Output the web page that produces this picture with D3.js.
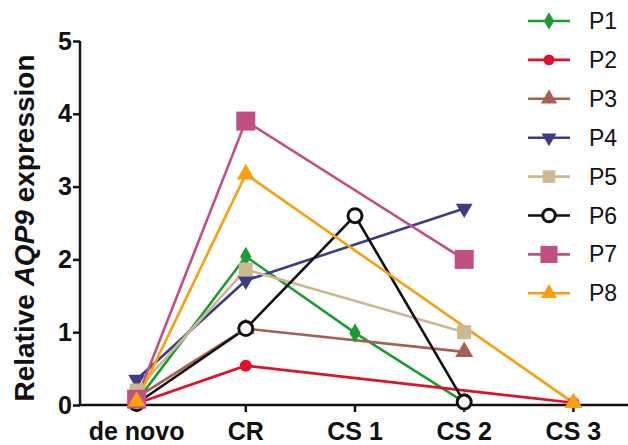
<!DOCTYPE html>
<html><head><meta charset="utf-8">
<script src="https://cdn.jsdelivr.net/npm/d3@7/dist/d3.min.js"></script>
<style>body{margin:0;background:#fff}svg{display:block}</style>
</head><body>
<svg id="c" width="628" height="445"></svg>
<script>
const categories = ["de novo", "CR", "CS 1", "CS 2", "CS 3"];
const yTicks = [0, 1, 2, 3, 4, 5];
const seriesNames = ["P1", "P2", "P3", "P4", "P5", "P6", "P7", "P8"];
// values per category (null = not measured)
const P1 = [0.05, 2.04, 0.99, 0.04, null];
const P2 = [0.02, 0.54, null, null, 0.03];
const P3 = [0.10, 1.05, null, 0.73, null];
const P4 = [0.35, 1.71, null, 2.70, null];
const P5 = [0.20, 1.86, null, 1.00, null];
const P6 = [0.02, 1.05, 2.60, 0.04, null];
const P7 = [0.08, 3.90, null, 2.00, null];
const P8 = [0.05, 3.17, null, null, 0.03];
const seriesValues = [P1, P2, P3, P4, P5, P6, P7, P8];
const colors = ["#1e9b35", "#e0102a", "#a65f52", "#3c3c86", "#cdb894", "#111111", "#c24f84", "#f7a010"];
const shapes = ["diamond", "circle", "triangle", "triangleDown", "square", "ring", "squareBig", "triangle"];

const FONT = "Liberation Sans, Arial, sans-serif";
const svg = d3.select("#c");
const x = d3.scaleBand().domain(categories).range([82, 628]).padding(0);
const y = d3.scaleLinear().domain([0, 5]).range([405, 41]);
const cx = c => x(c) + x.bandwidth() / 2;

function marker(g, shape, color, s) {
  s = s || 1;
  if (shape === "circle") g.append("circle").attr("r", 6 * s).attr("fill", color);
  else if (shape === "ring") g.append("circle").attr("r", 7 * s).attr("fill", "#fff").attr("stroke", color).attr("stroke-width", 3);
  else if (shape === "diamond") g.append("path").attr("d", d3.symbol(d3.symbolDiamond, 110 * s * s)()).attr("fill", color);
  else if (shape === "square") g.append("rect").attr("x", -7 * s).attr("y", -7 * s).attr("width", 14 * s).attr("height", 14 * s).attr("fill", color);
  else if (shape === "squareBig") g.append("rect").attr("x", -9.5 * s).attr("y", -9.5 * s).attr("width", 19 * s).attr("height", 19 * s).attr("fill", color);
  else if (shape === "triangle") g.append("path").attr("d", d3.symbol(d3.symbolTriangle, 140 * s * s)()).attr("fill", color);
  else if (shape === "triangleDown") g.append("path").attr("d", d3.symbol(d3.symbolTriangle, 120 * s * s)()).attr("transform", "rotate(180)").attr("fill", color);
}

// axes
const yAxis = svg.append("g").attr("transform", "translate(80,0)")
  .call(d3.axisLeft(y).tickValues(yTicks).tickFormat(d3.format("d")).tickSize(7).tickSizeOuter(0));
const xAxis = svg.append("g").attr("transform", "translate(0,405)")
  .call(d3.axisBottom(x).tickSize(7).tickSizeOuter(0));
[yAxis, xAxis].forEach(a => {
  a.selectAll("path,line").attr("stroke", "#111").attr("stroke-width", 2.5);
  a.selectAll("text").attr("fill", "#111").attr("font-family", FONT)
    .attr("font-weight", "bold").attr("font-size", 25);
});
yAxis.select(".domain").attr("d", "M0,41V405");
xAxis.select(".domain").attr("d", "M79,0H628");
yAxis.selectAll("text").attr("x", -8);
xAxis.selectAll("text").attr("y", 17);

// y label
const yl = svg.append("text").attr("transform", "translate(34,228) rotate(-90)")
  .attr("text-anchor", "middle").attr("font-family", FONT)
  .attr("font-weight", "bold").attr("font-size", 28).attr("fill", "#111");
yl.append("tspan").text("Relative ");
yl.append("tspan").attr("font-style", "italic").text("AQP9");
yl.append("tspan").text(" expression");

// lines
const line = d3.line().x(d => cx(d.c)).y(d => y(d.v));
seriesValues.forEach((vals, i) => {
  const pts = categories.map((c, j) => ({ c, v: vals[j] })).filter(d => d.v !== null);
  svg.append("path").datum(pts).attr("d", line).attr("fill", "none")
    .attr("stroke", colors[i]).attr("stroke-width", 2.6);
});
// markers
seriesValues.forEach((vals, i) => {
  categories.forEach((c, j) => {
    if (vals[j] === null) return;
    const g = svg.append("g").attr("transform", `translate(${cx(c)},${y(vals[j])})`);
    marker(g, shapes[i], colors[i]);
  });
});

// legend
const leg = svg.append("g");
seriesNames.forEach((n, i) => {
  const yy = 21 + i * 38.9;
  const g = leg.append("g").attr("transform", `translate(0,${yy})`);
  g.append("line").attr("x1", 528).attr("x2", 570).attr("stroke", colors[i]).attr("stroke-width", 2.6);
  const m = g.append("g").attr("transform", "translate(549,0)");
  marker(m, shapes[i], colors[i], 0.9);
  g.append("text").attr("x", 589).attr("y", 8).attr("font-family", FONT)
    .attr("font-size", 23).attr("fill", "#111").text(n);
});
</script>
</body></html>
